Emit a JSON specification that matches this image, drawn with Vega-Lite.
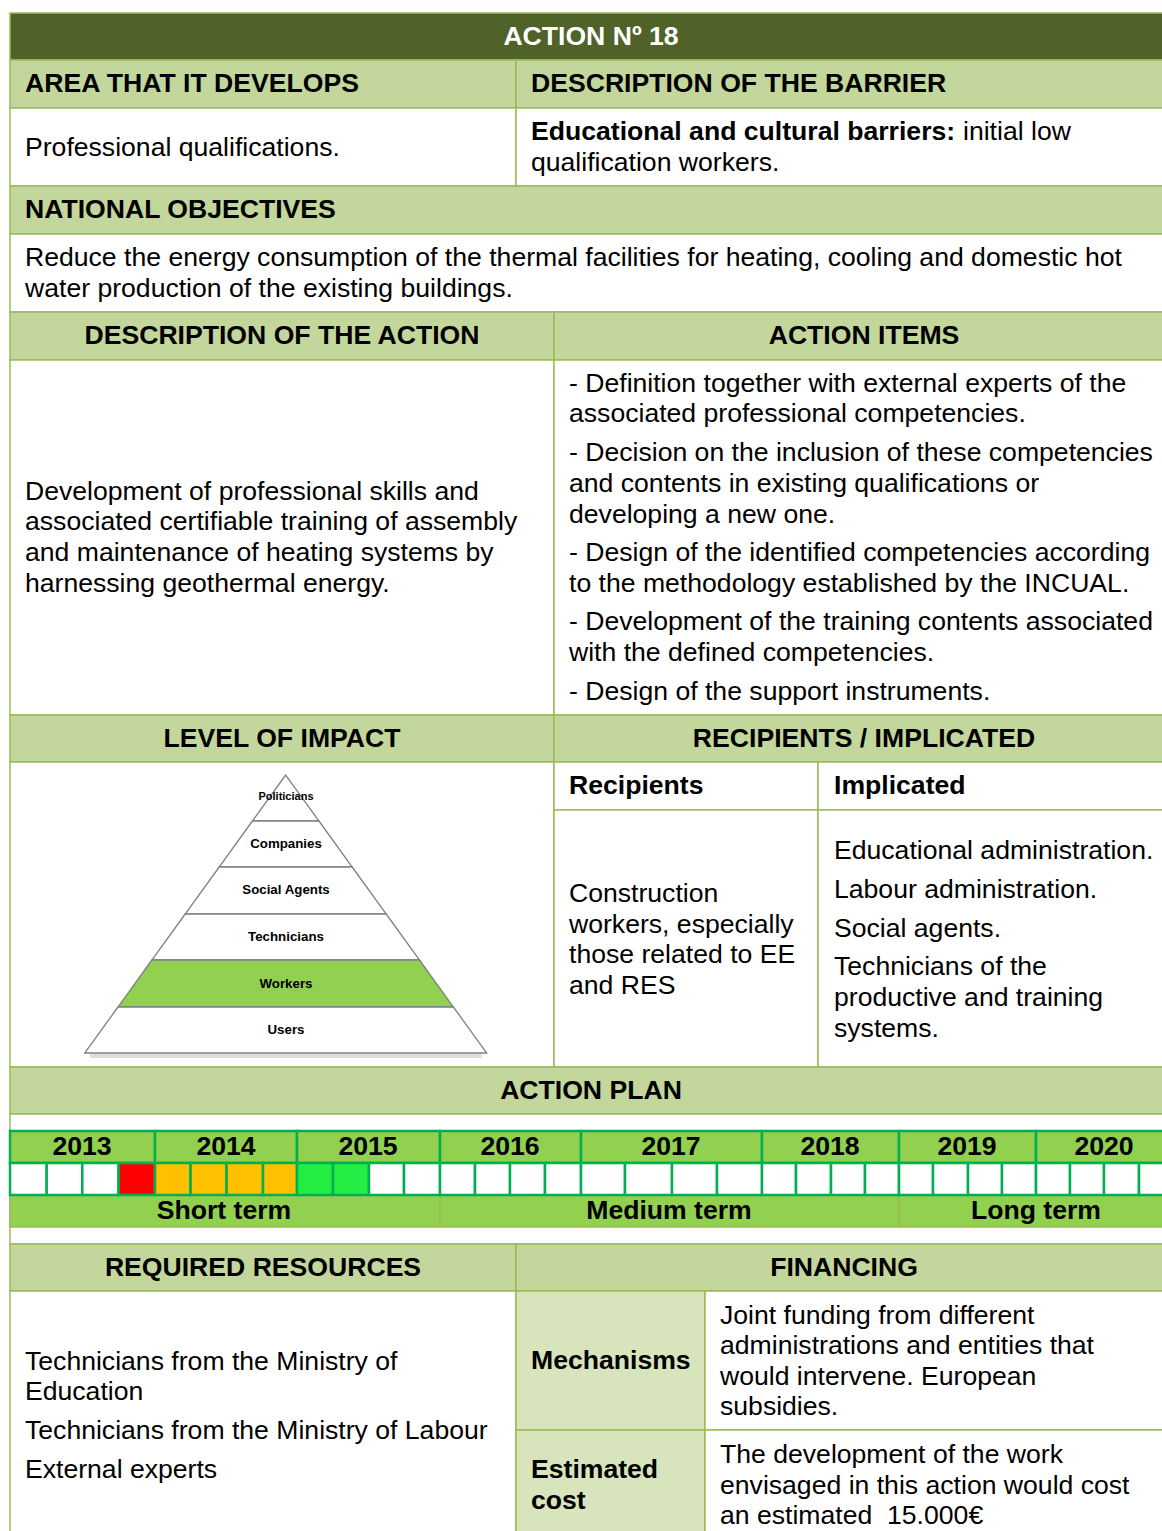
{
  "$schema": "https://vega.github.io/schema/vega-lite/v6.json",
  "autosize": {"type": "fit", "contains": "padding"},
  "width": 1162,
  "height": 1531,
  "padding": 0,
  "background": "#ffffff",
  "config": {"view": {"stroke": null}, "text": {"font": "Liberation Sans"}},
  "datasets": {
    "cells": [
      {"x": 10, "x2": 1170, "y": 13, "y2": 60, "kind": "dark"},
      {"x": 10, "x2": 516, "y": 60, "y2": 108, "kind": "light"},
      {"x": 516, "x2": 1170, "y": 60, "y2": 108, "kind": "light"},
      {"x": 10, "x2": 516, "y": 108, "y2": 186, "kind": "white"},
      {"x": 516, "x2": 1170, "y": 108, "y2": 186, "kind": "white"},
      {"x": 10, "x2": 1170, "y": 186, "y2": 234, "kind": "light"},
      {"x": 10, "x2": 1170, "y": 234, "y2": 312, "kind": "white"},
      {"x": 10, "x2": 554, "y": 312, "y2": 360, "kind": "light"},
      {"x": 554, "x2": 1170, "y": 312, "y2": 360, "kind": "light"},
      {"x": 10, "x2": 554, "y": 360, "y2": 715, "kind": "white"},
      {"x": 554, "x2": 1170, "y": 360, "y2": 715, "kind": "white"},
      {"x": 10, "x2": 554, "y": 715, "y2": 762, "kind": "light"},
      {"x": 554, "x2": 1170, "y": 715, "y2": 762, "kind": "light"},
      {"x": 10, "x2": 554, "y": 762, "y2": 1067, "kind": "white"},
      {"x": 554, "x2": 818, "y": 762, "y2": 810, "kind": "white"},
      {"x": 818, "x2": 1170, "y": 762, "y2": 810, "kind": "white"},
      {"x": 554, "x2": 818, "y": 810, "y2": 1067, "kind": "white"},
      {"x": 818, "x2": 1170, "y": 810, "y2": 1067, "kind": "white"},
      {"x": 10, "x2": 1170, "y": 1067, "y2": 1114, "kind": "light"},
      {"x": 10, "x2": 1170, "y": 1114, "y2": 1244, "kind": "white"},
      {"x": 10, "x2": 516, "y": 1244, "y2": 1291, "kind": "light"},
      {"x": 516, "x2": 1170, "y": 1244, "y2": 1291, "kind": "light"},
      {"x": 10, "x2": 516, "y": 1291, "y2": 1540, "kind": "white"},
      {"x": 516, "x2": 705, "y": 1291, "y2": 1430, "kind": "lighter"},
      {"x": 705, "x2": 1170, "y": 1291, "y2": 1430, "kind": "white"},
      {"x": 516, "x2": 705, "y": 1430, "y2": 1540, "kind": "lighter"},
      {"x": 705, "x2": 1170, "y": 1430, "y2": 1540, "kind": "white"},
      {"x": 10, "x2": 440, "y": 1195, "y2": 1227, "kind": "bright"},
      {"x": 440, "x2": 899, "y": 1195, "y2": 1227, "kind": "bright"},
      {"x": 899, "x2": 1172, "y": 1195, "y2": 1227, "kind": "bright"}
    ],
    "timeline": [
      {"x": 10, "x2": 155, "y": 1131, "y2": 1163, "kind": "bright"},
      {"x": 155, "x2": 297, "y": 1131, "y2": 1163, "kind": "bright"},
      {"x": 297, "x2": 440, "y": 1131, "y2": 1163, "kind": "bright"},
      {"x": 440, "x2": 581, "y": 1131, "y2": 1163, "kind": "bright"},
      {"x": 581, "x2": 762, "y": 1131, "y2": 1163, "kind": "bright"},
      {"x": 762, "x2": 899, "y": 1131, "y2": 1163, "kind": "bright"},
      {"x": 899, "x2": 1036, "y": 1131, "y2": 1163, "kind": "bright"},
      {"x": 1036, "x2": 1173, "y": 1131, "y2": 1163, "kind": "bright"},
      {"x": 10, "x2": 46.7, "y": 1163, "y2": 1195, "kind": "white"},
      {"x": 46.7, "x2": 82.3, "y": 1163, "y2": 1195, "kind": "white"},
      {"x": 82.3, "x2": 118.6, "y": 1163, "y2": 1195, "kind": "white"},
      {"x": 118.6, "x2": 155, "y": 1163, "y2": 1195, "kind": "red"},
      {"x": 155, "x2": 190.6, "y": 1163, "y2": 1195, "kind": "orange"},
      {"x": 190.6, "x2": 226.6, "y": 1163, "y2": 1195, "kind": "orange"},
      {"x": 226.6, "x2": 263, "y": 1163, "y2": 1195, "kind": "orange"},
      {"x": 263, "x2": 297, "y": 1163, "y2": 1195, "kind": "orange"},
      {"x": 297, "x2": 333, "y": 1163, "y2": 1195, "kind": "lime"},
      {"x": 333, "x2": 369, "y": 1163, "y2": 1195, "kind": "lime"},
      {"x": 369, "x2": 404, "y": 1163, "y2": 1195, "kind": "white"},
      {"x": 404, "x2": 440, "y": 1163, "y2": 1195, "kind": "white"},
      {"x": 440, "x2": 475, "y": 1163, "y2": 1195, "kind": "white"},
      {"x": 475, "x2": 510, "y": 1163, "y2": 1195, "kind": "white"},
      {"x": 510, "x2": 545, "y": 1163, "y2": 1195, "kind": "white"},
      {"x": 545, "x2": 581, "y": 1163, "y2": 1195, "kind": "white"},
      {"x": 581, "x2": 625, "y": 1163, "y2": 1195, "kind": "white"},
      {"x": 625, "x2": 672, "y": 1163, "y2": 1195, "kind": "white"},
      {"x": 672, "x2": 717, "y": 1163, "y2": 1195, "kind": "white"},
      {"x": 717, "x2": 762, "y": 1163, "y2": 1195, "kind": "white"},
      {"x": 762, "x2": 796, "y": 1163, "y2": 1195, "kind": "white"},
      {"x": 796, "x2": 831, "y": 1163, "y2": 1195, "kind": "white"},
      {"x": 831, "x2": 865, "y": 1163, "y2": 1195, "kind": "white"},
      {"x": 865, "x2": 899, "y": 1163, "y2": 1195, "kind": "white"},
      {"x": 899, "x2": 933, "y": 1163, "y2": 1195, "kind": "white"},
      {"x": 933, "x2": 968, "y": 1163, "y2": 1195, "kind": "white"},
      {"x": 968, "x2": 1002, "y": 1163, "y2": 1195, "kind": "white"},
      {"x": 1002, "x2": 1036, "y": 1163, "y2": 1195, "kind": "white"},
      {"x": 1036, "x2": 1070, "y": 1163, "y2": 1195, "kind": "white"},
      {"x": 1070, "x2": 1104, "y": 1163, "y2": 1195, "kind": "white"},
      {"x": 1104, "x2": 1139, "y": 1163, "y2": 1195, "kind": "white"},
      {"x": 1139, "x2": 1173, "y": 1163, "y2": 1195, "kind": "white"}
    ],
    "pyramid": [
      {"band": "Politicians", "y": 775, "x": 285.7, "x2": 285.7, "kind": "white"},
      {"band": "Politicians", "y": 821, "x": 252.4, "x2": 319.0, "kind": "white"},
      {"band": "Companies", "y": 821, "x": 252.4, "x2": 319.0, "kind": "white"},
      {"band": "Companies", "y": 867, "x": 219.2, "x2": 352.2, "kind": "white"},
      {"band": "Social Agents", "y": 867, "x": 219.2, "x2": 352.2, "kind": "white"},
      {"band": "Social Agents", "y": 914, "x": 185.2, "x2": 386.2, "kind": "white"},
      {"band": "Technicians", "y": 914, "x": 185.2, "x2": 386.2, "kind": "white"},
      {"band": "Technicians", "y": 960, "x": 151.9, "x2": 419.5, "kind": "white"},
      {"band": "Workers", "y": 960, "x": 151.9, "x2": 419.5, "kind": "bright"},
      {"band": "Workers", "y": 1007, "x": 118.0, "x2": 453.4, "kind": "bright"},
      {"band": "Users", "y": 1007, "x": 118.0, "x2": 453.4, "kind": "white"},
      {"band": "Users", "y": 1053, "x": 84.7, "x2": 486.7, "kind": "white"}
    ],
    "shadow": [
      {"x": 90, "x2": 482, "y": 1056}
    ],
    "texts": [
      {"t": "ACTION Nº 18", "x": 591, "y": 37, "s": "title"},
      {"t": "AREA THAT IT DEVELOPS", "x": 25, "y": 84, "s": "bl"},
      {"t": "DESCRIPTION OF THE BARRIER", "x": 531, "y": 84, "s": "bl"},
      {"t": "Educational and cultural barriers:", "x": 531, "y": 132, "s": "bl"},
      {"t": "NATIONAL OBJECTIVES", "x": 25, "y": 210, "s": "bl"},
      {"t": "Recipients", "x": 569, "y": 786, "s": "bl"},
      {"t": "Implicated", "x": 834, "y": 786, "s": "bl"},
      {"t": "Mechanisms", "x": 531, "y": 1361, "s": "bl"},
      {"t": "Estimated", "x": 531, "y": 1470, "s": "bl"},
      {"t": "cost", "x": 531, "y": 1501, "s": "bl"},
      {"t": "DESCRIPTION OF THE ACTION", "x": 282, "y": 336, "s": "bc"},
      {"t": "ACTION ITEMS", "x": 864, "y": 336, "s": "bc"},
      {"t": "LEVEL OF IMPACT", "x": 282, "y": 739, "s": "bc"},
      {"t": "RECIPIENTS / IMPLICATED", "x": 864, "y": 739, "s": "bc"},
      {"t": "ACTION PLAN", "x": 591, "y": 1091, "s": "bc"},
      {"t": "REQUIRED RESOURCES", "x": 263, "y": 1268, "s": "bc"},
      {"t": "FINANCING", "x": 844, "y": 1268, "s": "bc"},
      {"t": "2013", "x": 82, "y": 1147, "s": "bc"},
      {"t": "2014", "x": 226, "y": 1147, "s": "bc"},
      {"t": "2015", "x": 368, "y": 1147, "s": "bc"},
      {"t": "2016", "x": 510, "y": 1147, "s": "bc"},
      {"t": "2017", "x": 671, "y": 1147, "s": "bc"},
      {"t": "2018", "x": 830, "y": 1147, "s": "bc"},
      {"t": "2019", "x": 967, "y": 1147, "s": "bc"},
      {"t": "2020", "x": 1104, "y": 1147, "s": "bc"},
      {"t": "Short term", "x": 224, "y": 1211, "s": "bc"},
      {"t": "Medium term", "x": 669, "y": 1211, "s": "bc"},
      {"t": "Long term", "x": 1036, "y": 1211, "s": "bc"},
      {"t": "Professional qualifications.", "x": 25, "y": 148, "s": "n"},
      {"t": "initial low", "x": 963, "y": 132, "s": "n"},
      {"t": "qualification workers.", "x": 531, "y": 163, "s": "n"},
      {"t": "Reduce the energy consumption of the thermal facilities for heating, cooling and domestic hot", "x": 25, "y": 258, "s": "n"},
      {"t": "water production of the existing buildings.", "x": 25, "y": 289, "s": "n"},
      {"t": "Development of professional skills and", "x": 25, "y": 492, "s": "n"},
      {"t": "associated certifiable training of assembly", "x": 25, "y": 522, "s": "n"},
      {"t": "and maintenance of heating systems by", "x": 25, "y": 553, "s": "n"},
      {"t": "harnessing geothermal energy.", "x": 25, "y": 584, "s": "n"},
      {"t": "- Definition together with external experts of the", "x": 569, "y": 384, "s": "n"},
      {"t": "associated professional competencies.", "x": 569, "y": 414, "s": "n"},
      {"t": "- Decision on the inclusion of these competencies", "x": 569, "y": 453, "s": "n"},
      {"t": "and contents in existing qualifications or", "x": 569, "y": 484, "s": "n"},
      {"t": "developing a new one.", "x": 569, "y": 515, "s": "n"},
      {"t": "- Design of the identified competencies according", "x": 569, "y": 553, "s": "n"},
      {"t": "to the methodology established by the INCUAL.", "x": 569, "y": 584, "s": "n"},
      {"t": "- Development of the training contents associated", "x": 569, "y": 622, "s": "n"},
      {"t": "with the defined competencies.", "x": 569, "y": 653, "s": "n"},
      {"t": "- Design of the support instruments.", "x": 569, "y": 692, "s": "n"},
      {"t": "Construction", "x": 569, "y": 894, "s": "n"},
      {"t": "workers, especially", "x": 569, "y": 925, "s": "n"},
      {"t": "those related to EE", "x": 569, "y": 955, "s": "n"},
      {"t": "and RES", "x": 569, "y": 986, "s": "n"},
      {"t": "Educational administration.", "x": 834, "y": 851, "s": "n"},
      {"t": "Labour administration.", "x": 834, "y": 890, "s": "n"},
      {"t": "Social agents.", "x": 834, "y": 929, "s": "n"},
      {"t": "Technicians of the", "x": 834, "y": 967, "s": "n"},
      {"t": "productive and training", "x": 834, "y": 998, "s": "n"},
      {"t": "systems.", "x": 834, "y": 1029, "s": "n"},
      {"t": "Technicians from the Ministry of", "x": 25, "y": 1362, "s": "n"},
      {"t": "Education", "x": 25, "y": 1392, "s": "n"},
      {"t": "Technicians from the Ministry of Labour", "x": 25, "y": 1431, "s": "n"},
      {"t": "External experts", "x": 25, "y": 1470, "s": "n"},
      {"t": "Joint funding from different", "x": 720, "y": 1316, "s": "n"},
      {"t": "administrations and entities that", "x": 720, "y": 1346, "s": "n"},
      {"t": "would intervene. European", "x": 720, "y": 1377, "s": "n"},
      {"t": "subsidies.", "x": 720, "y": 1407, "s": "n"},
      {"t": "The development of the work", "x": 720, "y": 1455, "s": "n"},
      {"t": "envisaged in this action would cost", "x": 720, "y": 1486, "s": "n"},
      {"t": "an estimated \u00a015.000€", "x": 720, "y": 1516, "s": "n"},
      {"t": "Politicians", "x": 286, "y": 797, "s": "ps"},
      {"t": "Companies", "x": 286, "y": 844, "s": "p"},
      {"t": "Social Agents", "x": 286, "y": 890, "s": "p"},
      {"t": "Technicians", "x": 286, "y": 937, "s": "p"},
      {"t": "Workers", "x": 286, "y": 984, "s": "p"},
      {"t": "Users", "x": 286, "y": 1030, "s": "p"}
    ]
  },
  "encoding": {
    "x": {"field": "x", "type": "quantitative", "scale": {"domain": [0, 1162], "nice": false, "zero": false}, "axis": null},
    "y": {"field": "y", "type": "quantitative", "scale": {"domain": [0, 1531], "nice": false, "zero": false, "reverse": true}, "axis": null}
  },
  "layer": [
    {
      "data": {"name": "cells"},
      "mark": {"type": "rect", "stroke": "#9bbb59", "strokeWidth": 1.5, "clip": true},
      "encoding": {
        "x2": {"field": "x2"},
        "y2": {"field": "y2"},
        "color": {"field": "kind", "type": "nominal", "legend": null,
          "scale": {"domain": ["dark", "light", "lighter", "white", "bright", "red", "orange", "lime"],
                    "range": ["#4f6228", "#c3d69b", "#d7e4bc", "#ffffff", "#92d050", "#ff0000", "#ffc000", "#22ee44"]}}
      }
    },
    {
      "data": {"name": "timeline"},
      "mark": {"type": "rect", "stroke": "#00b050", "strokeWidth": 2.5, "clip": true},
      "encoding": {
        "x2": {"field": "x2"},
        "y2": {"field": "y2"},
        "color": {"field": "kind", "type": "nominal", "legend": null}
      }
    },
    {
      "data": {"name": "shadow"},
      "mark": {"type": "rule", "color": "#9a9a9a", "strokeWidth": 4, "opacity": 0.35},
      "encoding": {"x2": {"field": "x2"}}
    },
    {
      "data": {"name": "pyramid"},
      "mark": {"type": "area", "orient": "horizontal", "stroke": "#808080", "strokeWidth": 1.3, "opacity": 1},
      "encoding": {
        "x2": {"field": "x2"},
        "detail": {"field": "band", "type": "nominal"},
        "color": {"field": "kind", "type": "nominal", "legend": null}
      }
    },
    {
      "data": {"name": "texts"},
      "transform": [{"filter": "datum.s === 'title'"}],
      "mark": {"type": "text", "align": "center", "baseline": "middle", "fontWeight": "bold", "fontSize": 26.6, "color": "#ffffff"},
      "encoding": {"text": {"field": "t"}}
    },
    {
      "data": {"name": "texts"},
      "transform": [{"filter": "datum.s === 'bl'"}],
      "mark": {"type": "text", "align": "left", "baseline": "middle", "fontWeight": "bold", "fontSize": 26.6, "color": "#000000"},
      "encoding": {"text": {"field": "t"}}
    },
    {
      "data": {"name": "texts"},
      "transform": [{"filter": "datum.s === 'bc'"}],
      "mark": {"type": "text", "align": "center", "baseline": "middle", "fontWeight": "bold", "fontSize": 26.6, "color": "#000000"},
      "encoding": {"text": {"field": "t"}}
    },
    {
      "data": {"name": "texts"},
      "transform": [{"filter": "datum.s === 'n'"}],
      "mark": {"type": "text", "align": "left", "baseline": "middle", "fontSize": 26.6, "color": "#000000"},
      "encoding": {"text": {"field": "t"}}
    },
    {
      "data": {"name": "texts"},
      "transform": [{"filter": "datum.s === 'p'"}],
      "mark": {"type": "text", "align": "center", "baseline": "middle", "fontWeight": "bold", "fontSize": 13.3, "color": "#000000"},
      "encoding": {"text": {"field": "t"}}
    },
    {
      "data": {"name": "texts"},
      "transform": [{"filter": "datum.s === 'ps'"}],
      "mark": {"type": "text", "align": "center", "baseline": "middle", "fontWeight": "bold", "fontSize": 11, "color": "#000000"},
      "encoding": {"text": {"field": "t"}}
    }
  ]
}
